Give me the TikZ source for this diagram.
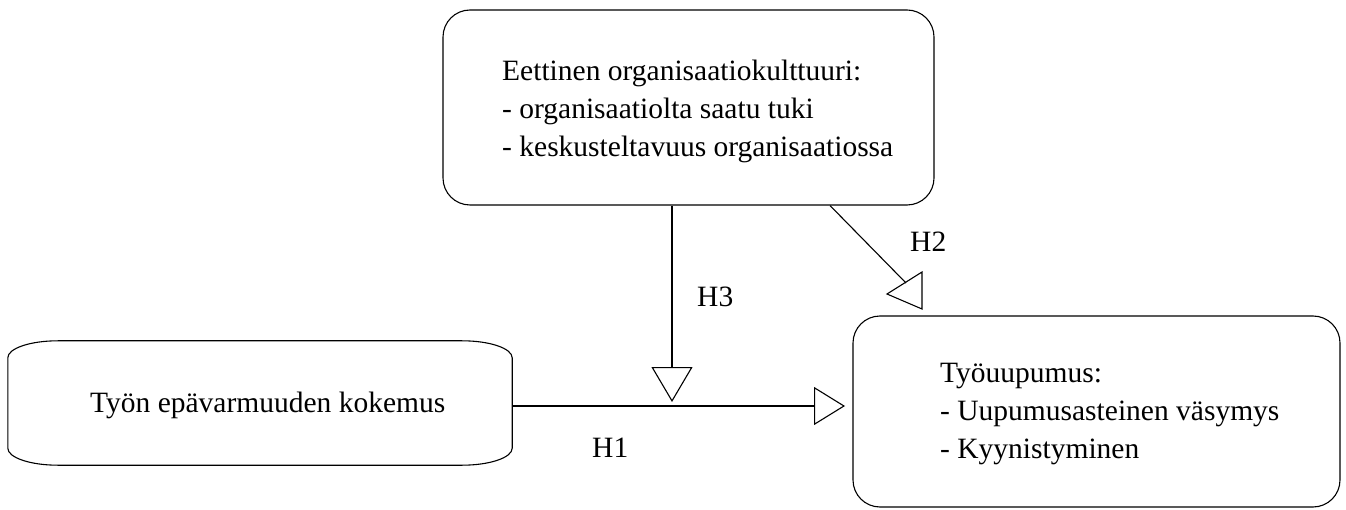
\documentclass[tikz,border=0pt]{standalone}
\usepackage{fontspec}
\setmainfont{Liberation Serif}
\usetikzlibrary{arrows.meta,calc}
\begin{document}
\begin{tikzpicture}[x=1pt,y=1pt,
  every node/.style={font=\fontsize{29.5}{38}\selectfont},
  conn/.style={line width=1.1pt},
  box/.style={draw,line width=1.1pt,rounded corners=27pt,inner sep=0pt},
  txt/.style={inner sep=0pt,align=left},
  openarrow/.style={conn,-{Triangle[open,length=31pt,width=38pt,line width=1.1pt]}},
  downarrow/.style={conn,-{Triangle[open,length=35pt,width=41pt,line width=1.1pt]}}]
\useasboundingbox (0,0) rectangle (1346,509);
% boxes
\node[box,minimum width=491pt,minimum height=195pt] (tb) at (688.5,401.5) {};
\node[box,minimum width=487pt,minimum height=191pt] (rb) at (1096.5,97.5) {};
\node[inner sep=0pt,minimum width=504pt,minimum height=124pt] (lb) at (260,106) {};
\draw[line width=1.1pt]
  ($(lb.north west)+(0,-17)$) arc[start angle=180,end angle=90,x radius=50,y radius=17]
  -- ($(lb.north east)+(-50,0)$) arc[start angle=90,end angle=0,x radius=50,y radius=17]
  -- ($(lb.south east)+(0,17)$) arc[start angle=0,end angle=-90,x radius=50,y radius=17]
  -- ($(lb.south west)+(50,0)$) arc[start angle=270,end angle=180,x radius=50,y radius=17]
  -- cycle;
% texts
\node[txt,anchor=north west] (tbt) at (502,449) {Eettinen organisaatiokulttuuri:\\- organisaatiolta saatu tuki\\- keskusteltavuus organisaatiossa};
\node[txt,anchor=base west] (lbt) at (90,97) {Työn epävarmuuden kokemus};
\node[txt,anchor=north west] (rbt) at (940,146) {Työuupumus:\\- Uupumusasteinen väsymys\\- Kyynistyminen};
% connectors
\coordinate (h1tip) at (845,103);
\coordinate (h3tip) at (672,107);
\coordinate (h2s) at (830,0);
\coordinate (h2e) at (906,226);
\draw[openarrow] (lb.east |- h1tip) -- (h1tip);
\draw[downarrow] (tb.south -| h3tip) -- (h3tip);
\draw[conn] (tb.south -| h2s) -- (h2e);
\draw[conn,line join=miter] (922,237) -- (922,200) -- (887,215) -- cycle;
% labels
\node[inner sep=0pt,anchor=base west] (h1) at (592,52) {H1};
\node[inner sep=0pt,anchor=base west] (h2) at (910,257) {H2};
\node[inner sep=0pt,anchor=base west] (h3) at (697,202) {H3};
\end{tikzpicture}
\end{document}
